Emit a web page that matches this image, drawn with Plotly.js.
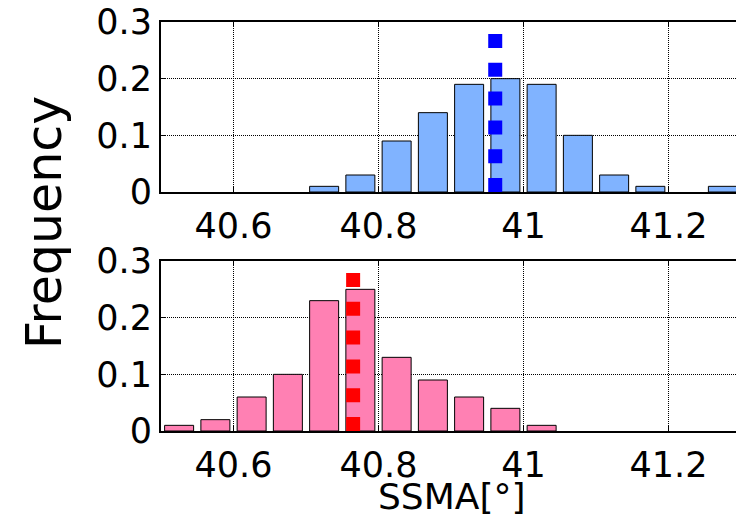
<!DOCTYPE html>
<html>
<head>
<meta charset="utf-8">
<script src="https://cdn.plot.ly/plotly-3.0.1.min.js"></script>
<style>
html,body{margin:0;padding:0;overflow:hidden;background:#fff;}
#chart{width:741px;height:517px;}
</style>
</head>
<body>
<div id="chart"></div>
<script>
// bin centres (empty bins omitted)
const binsTop = [40.725, 40.775, 40.825, 40.875, 40.925, 40.975, 41.025, 41.075, 41.125, 41.175, 41.275];
const freqTop = [0.01, 0.03, 0.09, 0.14, 0.19, 0.20, 0.19, 0.10, 0.03, 0.01, 0.01];
const binsBottom = [40.525, 40.575, 40.625, 40.675, 40.725, 40.775, 40.825, 40.875, 40.925, 40.975, 41.025];
const freqBottom = [0.01, 0.02, 0.06, 0.10, 0.23, 0.25, 0.13, 0.09, 0.06, 0.04, 0.01];
const meanTop = 40.961;
const meanBottom = 40.765;
const meanLineY = [0, 0.28];
const xTickVals = [40.6, 40.8, 41, 41.2];
const yTickVals = [0, 0.1, 0.2, 0.3];

const FONT = "DejaVu Sans, Verdana, sans-serif";

const traces = [
  {type:'bar', x: binsTop, y: freqTop, width: 0.04, xaxis:'x', yaxis:'y',
   marker:{color:'#80b3ff', line:{color:'#000', width:1}}, showlegend:false, hoverinfo:'skip'},
  {type:'scatter', mode:'lines', x:[meanTop, meanTop], y: meanLineY, xaxis:'x', yaxis:'y',
   line:{color:'#0000ff', width:14, dash:'14px,14.8px'}, showlegend:false, hoverinfo:'skip'},
  {type:'bar', x: binsBottom, y: freqBottom, width: 0.04, xaxis:'x2', yaxis:'y2',
   marker:{color:'#ff80b3', line:{color:'#000', width:1}}, showlegend:false, hoverinfo:'skip'},
  {type:'scatter', mode:'lines', x:[meanBottom, meanBottom], y: meanLineY, xaxis:'x2', yaxis:'y2',
   line:{color:'#ff0000', width:14, dash:'14px,14.8px'}, showlegend:false, hoverinfo:'skip'}
];

function xa(anchor){
  return {anchor: anchor, domain:[0,1], range:[40.5, 41.3], tickvals: xTickVals,
    ticks:'inside', ticklen:5, tickwidth:1.5, tickcolor:'#000',
    showline:true, linewidth:2, linecolor:'#000', mirror:'ticks',
    showgrid:true, gridcolor:'#000', gridwidth:1, griddash:'1px,1px',
    zeroline:false, automargin:false, ticklabelstandoff: 2,
    tickfont:{family:FONT, size:35, color:'#000'}};
}
function ya(anchor, dom){
  return {anchor: anchor, domain: dom, range:[0, 0.3], tickvals: yTickVals,
    ticks:'inside', ticklen:5, tickwidth:1.5, tickcolor:'#000',
    showline:true, linewidth:2, linecolor:'#000', mirror:'ticks',
    showgrid:true, gridcolor:'#000', gridwidth:1, griddash:'1px,1px',
    zeroline:false, automargin:false,
    tickfont:{family:FONT, size:35, color:'#000'}};
}

const layout = {
  width: 741, height: 517,
  margin:{l:161, r:0, t:0, b:0, pad:0},
  paper_bgcolor:'#fff', plot_bgcolor:'#fff',
  bargap:0,
  xaxis: xa('y'),
  yaxis: ya('x', [(517-192)/517, (517-22)/517]),
  xaxis2: xa('y2'),
  yaxis2: ya('x2', [(517-431)/517, (517-261)/517]),
  annotations:[
    {text:'Frequency', xref:'paper', yref:'paper', x:-161/580 + 44/580, y:(517-222)/517,
     xanchor:'center', yanchor:'middle', textangle:-90, showarrow:false,
     font:{family:FONT, size:49, color:'#000'}},
    {text:'SSMA[°]', xref:'paper', yref:'paper', x:0.5, y:(517-496)/517,
     xanchor:'center', yanchor:'middle', showarrow:false,
     font:{family:FONT, size:36, color:'#000'}}
  ]
};

Plotly.newPlot('chart', traces, layout, {displayModeBar:false, staticPlot:true});
</script>
</body>
</html>
